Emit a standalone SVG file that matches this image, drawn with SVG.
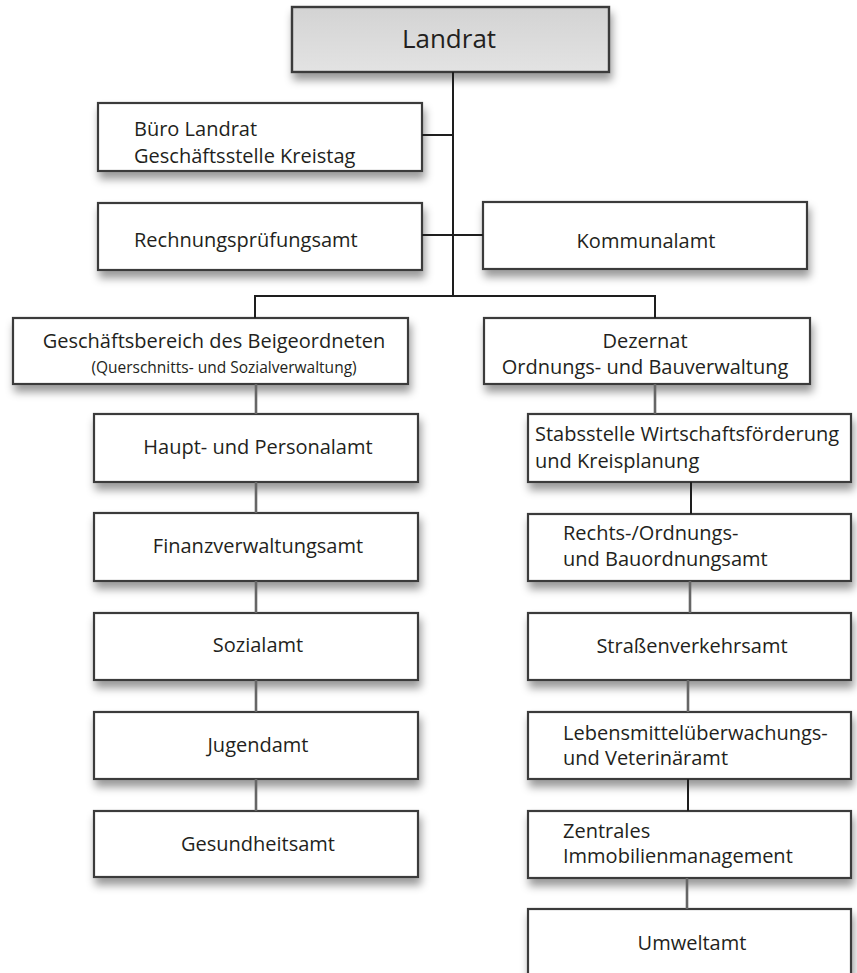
<svg xmlns="http://www.w3.org/2000/svg" width="857" height="973" viewBox="0 0 857 973">
<style>
.box{fill:#ffffff;stroke:#3a3a3a;stroke-width:2.2;filter:url(#sh)}
.top{fill:url(#g);stroke:#3a3a3a;stroke-width:2.4;filter:url(#sh)}
text{font-family:"Open Sans","Noto Sans",sans-serif;font-size:20px;fill:#231f20}
.c{text-anchor:middle}
.small{font-size:15.5px}
.big{font-size:26px}
.ln{stroke:#1e1e1e;stroke-width:2;fill:none}
.lg{stroke:#666;stroke-width:2.6;fill:none}
</style>
<defs>
<linearGradient id="g" x1="0" y1="0" x2="0" y2="1"><stop offset="0" stop-color="#d3d3d3"/><stop offset="1" stop-color="#e3e3e3"/></linearGradient>
<filter id="sh" x="-10%" y="-20%" width="125%" height="160%"><feDropShadow dx="2" dy="7" stdDeviation="4" flood-color="#000" flood-opacity="0.4"/></filter>
</defs>
<g id="landrat"><rect class="top" x="292" y="7" width="317" height="65"/><text class="c big" x="449" y="48">Landrat</text></g>
<g id="buero"><rect class="box" x="98" y="103" width="324" height="68"/><text x="134" y="136">Büro Landrat</text><text x="134" y="163">Geschäftsstelle Kreistag</text></g>
<g id="rpa"><rect class="box" x="98" y="203" width="324" height="67"/><text x="134" y="247">Rechnungsprüfungsamt</text></g>
<g id="kommunal"><rect class="box" x="483" y="202" width="324" height="67"/><text class="c" x="646" y="248">Kommunalamt</text></g>
<g id="gb"><rect class="box" x="13" y="318" width="395" height="66"/><text class="c" x="214" y="348">Geschäftsbereich des Beigeordneten</text><text class="c small" x="224" y="373">(Querschnitts- und Sozialverwaltung)</text></g>
<g id="dez"><rect class="box" x="484" y="318" width="326" height="66"/><text class="c" x="645" y="348">Dezernat</text><text class="c" x="645" y="374">Ordnungs- und Bauverwaltung</text></g>
<g id="haupt"><rect class="box" x="94" y="414" width="324" height="68"/><text class="c" x="258" y="454">Haupt- und Personalamt</text></g>
<g id="finanz"><rect class="box" x="94" y="513" width="324" height="68"/><text class="c" x="258" y="553">Finanzverwaltungsamt</text></g>
<g id="sozial"><rect class="box" x="94" y="613" width="324" height="67"/><text class="c" x="258" y="652">Sozialamt</text></g>
<g id="jugend"><rect class="box" x="94" y="712" width="324" height="67"/><text class="c" x="258" y="752">Jugendamt</text></g>
<g id="gesund"><rect class="box" x="94" y="811" width="324" height="66"/><text class="c" x="258" y="851">Gesundheitsamt</text></g>
<g id="stabs"><rect class="box" x="528" y="414" width="323" height="68"/><text x="535" y="441">Stabsstelle Wirtschaftsförderung</text><text x="535" y="468">und Kreisplanung</text></g>
<g id="rechts"><rect class="box" x="528" y="514" width="323" height="67"/><text x="563" y="540">Rechts-/Ordnungs-</text><text x="563" y="566">und Bauordnungsamt</text></g>
<g id="strasse"><rect class="box" x="528" y="613" width="323" height="67"/><text class="c" x="692" y="653">Straßenverkehrsamt</text></g>
<g id="leben"><rect class="box" x="528" y="712" width="323" height="67"/><text x="563" y="740">Lebensmittelüberwachungs-</text><text x="563" y="765">und Veterinäramt</text></g>
<g id="zim"><rect class="box" x="528" y="811" width="323" height="67"/><text x="563" y="838">Zentrales</text><text x="563" y="863">Immobilienmanagement</text></g>
<g id="umwelt"><rect class="box" x="528" y="909" width="323" height="80"/><text class="c" x="692" y="950">Umweltamt</text></g>
<g id="connectors">
<path class="ln" d="M453 72V296M422 135H453M422 235H483M255 318V296H655V318"/>
<path class="lg" d="M256 384V414M256 482V513M256 581V613M256 680V712M256 779V811"/>
<path class="lg" d="M655 384V414M690 581V613M688 680V712M687 878V909"/>
<path class="ln" d="M691 482V514M688 779V811"/>
</g>
</svg>
